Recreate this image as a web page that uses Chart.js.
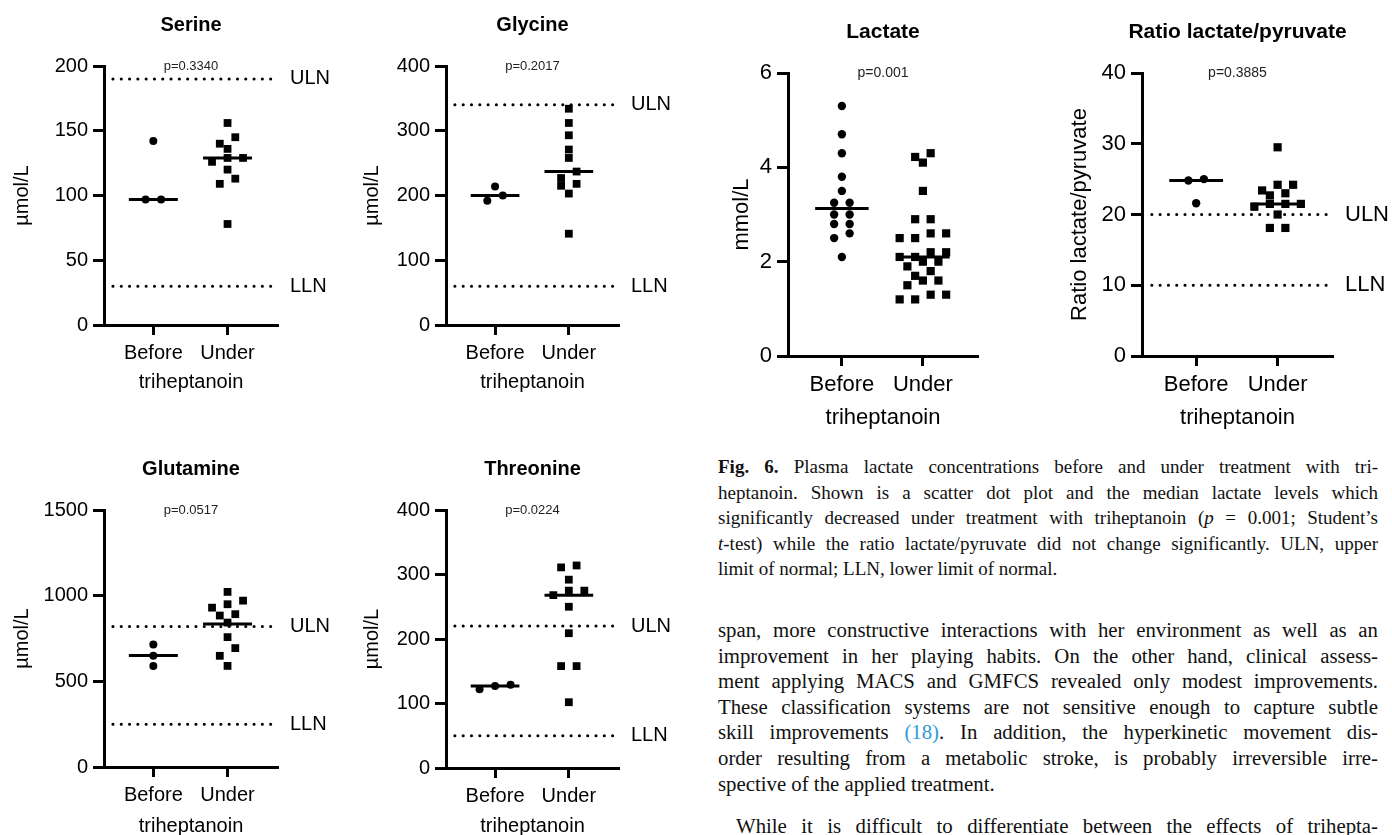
<!DOCTYPE html>
<html>
<head>
<meta charset="utf-8">
<script src="https://cdn.jsdelivr.net/npm/chart.js@4/dist/chart.umd.min.js"></script>
<style>
  html, body { margin: 0; padding: 0; background: #fff; }
  body { width: 1392px; height: 835px; position: relative; overflow: hidden; }
  canvas { position: absolute; }
  .col { position: absolute; left: 718px; width: 660px; font-family: "Liberation Serif", "Times New Roman", serif; color: #111; }
  .col div { text-align: justify; text-align-last: justify; }
  .col div.last { text-align-last: left; }
  #caption { top: 454px; font-size: 19px; line-height: 25.5px; }
  #body { top: 617px; font-size: 20.8px; line-height: 25.6px; }
  .ref { color: #2b9bd8; }
</style>
</head>
<body>
<canvas id="c-serine"></canvas>
<canvas id="c-glycine"></canvas>
<canvas id="c-lactate"></canvas>
<canvas id="c-ratio"></canvas>
<canvas id="c-glutamine"></canvas>
<canvas id="c-threonine"></canvas>

<div class="col" id="caption">
  <div><b>Fig. 6.</b> Plasma lactate concentrations before and under treatment with tri-</div>
  <div>heptanoin. Shown is a scatter dot plot and the median lactate levels which</div>
  <div>significantly decreased under treatment with triheptanoin (<i>p</i> = 0.001; Student’s</div>
  <div><i>t</i>-test) while the ratio lactate/pyruvate did not change significantly. ULN, upper</div>
  <div class="last">limit of normal; LLN, lower limit of normal.</div>
</div>

<div class="col" id="body">
  <div>span, more constructive interactions with her environment as well as an</div>
  <div>improvement in her playing habits. On the other hand, clinical assess-</div>
  <div>ment applying MACS and GMFCS revealed only modest improvements.</div>
  <div>These classification systems are not sensitive enough to capture subtle</div>
  <div>skill improvements <span class="ref">(18)</span>. In addition, the hyperkinetic movement dis-</div>
  <div>order resulting from a metabolic stroke, is probably irreversible irre-</div>
  <div class="last">spective of the applied treatment.</div>
  <div style="text-indent: 18px; margin-top: 17px">While it is difficult to differentiate between the effects of trihepta-</div>
</div>

<script>
// data
const groups = ["Before", "Under"];
const limitNames = ["ULN", "LLN"];

const serineBefore = [142, 97, 97];
const serineUnder = [156, 145, 140, 136, 129, 129, 126, 120, 113, 109, 78];
const serineLimits = [190, 30];

const glycineBefore = [214, 200, 192];
const glycineUnder = [334, 312, 293, 271, 258, 237, 227, 218, 215, 203, 141];
const glycineLimits = [340, 60];

const lactateBefore = [5.3, 4.7, 4.3, 3.8, 3.5, 3.25, 3.25, 3.0, 3.0, 2.8, 2.8, 2.6, 2.5, 2.1];
const lactateUnder = [4.3, 4.22, 4.1, 3.5, 2.9, 2.9, 2.6, 2.6, 2.5, 2.5, 2.2, 2.2, 2.1, 2.1,
  2.0, 2.0, 1.9, 1.8, 1.7, 1.6, 1.6, 1.5, 1.3, 1.3, 1.2, 1.2];
const lactateLimits = [];

const ratioBefore = [25.0, 24.8, 21.6];
const ratioUnder = [29.5, 24.2, 24.2, 23.4, 23.0, 22.7, 21.5, 21.5, 21.5, 21.1, 20.0, 18.1, 18.1];
const ratioLimits = [20, 10];

const glutamineBefore = [715, 650, 589];
const glutamineUnder = [1022, 971, 950, 930, 892, 884, 843, 758, 694, 649, 590];
const glutamineLimits = [820, 250];

const threonineBefore = [129, 127, 122];
const threonineUnder = [314, 311, 292, 275, 275, 268, 250, 209, 158, 158, 102];
const threonineLimits = [220, 50];

const family = '"Liberation Sans", Arial, sans-serif';
const xMin = 0.335, xMax = 2.68;

const small = { tick: 20, title: 20, yTitle: 20, p: 13, limit: 20, circle: 4, square: 5.5 };
const big = { tick: 22, title: 21, yTitle: 22, p: 14, limit: 22, circle: 4.2, square: 5.8 };

const panels = [
  { id: "c-serine", title: "Serine", p: "p=0.3340", yTitle: "µmol/L", yMax: 200, yStep: 50,
    before: serineBefore, under: serineUnder, limits: serineLimits, stat: "median", f: small,
    box: { left: 0, top: 0, width: 350, height: 400 }, area: { l: 104, t: 66, r: 278, b: 325 },
    yTitlePad: 10, xTitlePad: 6 },
  { id: "c-glycine", title: "Glycine", p: "p=0.2017", yTitle: "µmol/L", yMax: 400, yStep: 100,
    before: glycineBefore, under: glycineUnder, limits: glycineLimits, stat: "median", f: small,
    box: { left: 350, top: 0, width: 350, height: 400 }, area: { l: 446, t: 66, r: 619, b: 325 },
    yTitlePad: 10, xTitlePad: 6 },
  { id: "c-lactate", title: "Lactate", p: "p=0.001", yTitle: "mmol/L", yMax: 6, yStep: 2,
    before: lactateBefore, under: lactateUnder, limits: lactateLimits, stat: "median", f: big,
    box: { left: 710, top: 0, width: 340, height: 440 }, area: { l: 788, t: 73, r: 978, b: 356 },
    yTitlePad: 19, xTitlePad: 9 },
  { id: "c-ratio", title: "Ratio lactate/pyruvate", p: "p=0.3885", yTitle: "Ratio lactate/pyruvate", yMax: 40, yStep: 10,
    before: ratioBefore, under: ratioUnder, limits: ratioLimits, stat: "median", f: big,
    box: { left: 1050, top: 0, width: 342, height: 440 }, area: { l: 1142, t: 73, r: 1333, b: 356 },
    yTitlePad: 17, xTitlePad: 9 },
  { id: "c-glutamine", title: "Glutamine", p: "p=0.0517", yTitle: "µmol/L", yMax: 1500, yStep: 500,
    before: glutamineBefore, under: glutamineUnder, limits: glutamineLimits, stat: "mean", f: small,
    box: { left: 0, top: 440, width: 350, height: 410 }, area: { l: 104, t: 510, r: 278, b: 767 },
    yTitlePad: 10, xTitlePad: 12 },
  { id: "c-threonine", title: "Threonine", p: "p=0.0224", yTitle: "µmol/L", yMax: 400, yStep: 100,
    before: threonineBefore, under: threonineUnder, limits: threonineLimits, stat: "median", f: small,
    box: { left: 350, top: 440, width: 350, height: 410 }, area: { l: 446, t: 510, r: 619, b: 768 },
    yTitlePad: 10, xTitlePad: 12 },
];

// spread points that sit at about the same height into a centred row
function swarm(values, center, step, bin) {
  const sorted = values.slice().sort((a, b) => b - a);
  const rows = [];
  for (const v of sorted) {
    const row = rows[rows.length - 1];
    if (row && row[0] - v < bin) row.push(v);
    else rows.push([v]);
  }
  const pts = [];
  for (const row of rows) {
    row.sort((a, b) => a - b);
    row.forEach((v, k) => pts.push({ x: center + (k - (row.length - 1) / 2) * step, y: v }));
  }
  return pts;
}

function centerValue(values, stat) {
  if (stat === "mean") return values.reduce((s, v) => s + v, 0) / values.length;
  const s = values.slice().sort((a, b) => a - b);
  const m = Math.floor(s.length / 2);
  return s.length % 2 ? s[m] : (s[m - 1] + s[m]) / 2;
}

const panelText = {
  id: "panelText",
  afterDraw(chart, args, o) {
    const { ctx, chartArea: a, scales } = chart;
    const cx = (a.left + a.right) / 2;
    ctx.save();
    ctx.fillStyle = "#000";
    ctx.textAlign = "center";
    ctx.textBaseline = "middle";
    ctx.font = `bold ${o.f.title}px ${family}`;
    ctx.fillText(o.title, cx, a.top - 41);
    ctx.font = `${o.f.p}px ${family}`;
    ctx.fillStyle = "#222";
    ctx.fillText(o.p, cx, a.top);
    ctx.fillStyle = "#000";
    ctx.textAlign = "left";
    ctx.font = `${o.f.limit}px ${family}`;
    o.limits.forEach((v, i) => ctx.fillText(limitNames[i], a.right + 12, scales.y.getPixelForValue(v)));
    ctx.restore();
  },
};

const axisGrid = (len) => ({
  drawOnChartArea: false, drawTicks: true, tickLength: len, tickWidth: 3, tickColor: "#000", color: "#000",
});

panels.forEach((p) => {
  const el = document.getElementById(p.id);
  el.width = p.box.width;
  el.height = p.box.height;
  el.style.left = p.box.left + "px";
  el.style.top = p.box.top + "px";

  const a = p.area;
  const pxX = (a.r - a.l) / (xMax - xMin);
  const pxY = (a.b - a.t) / p.yMax;
  const bin = 8 / pxY;
  const step = 15.5 / pxX;

  const datasets = [];
  [p.before, p.under].forEach((vals, g) => {
    const c = g + 1;
    const m = centerValue(vals, p.stat);
    datasets.push({
      data: [{ x: c - 0.33, y: m }, { x: c + 0.33, y: m }],
      showLine: true, borderColor: "#000", borderWidth: 3, pointRadius: 0, order: 0,
    });
  });
  p.limits.forEach((v) => {
    datasets.push({
      data: [{ x: xMin + 0.12, y: v }, { x: xMax, y: v }],
      showLine: true, borderColor: "#000", borderWidth: 3, borderDash: [0.1, 8.2],
      borderCapStyle: "round", pointRadius: 0, order: 2,
    });
  });
  datasets.push({
    data: swarm(p.before, 1, step, bin),
    pointStyle: "circle", pointRadius: p.f.circle, backgroundColor: "#000", borderWidth: 0, order: 1,
  });
  datasets.push({
    data: swarm(p.under, 2, step, bin),
    pointStyle: "rect", pointRadius: p.f.square, backgroundColor: "#000", borderWidth: 0, order: 1,
  });

  new Chart(el, {
    type: "scatter",
    data: { datasets },
    options: {
      responsive: false,
      animation: false,
      events: [],
      layout: {
        padding: { top: a.t - p.box.top, right: p.box.left + p.box.width - a.r, bottom: 0, left: 0 },
      },
      plugins: {
        legend: { display: false },
        tooltip: { enabled: false },
        panelText: { title: p.title, p: p.p, limits: p.limits, f: p.f },
      },
      scales: {
        x: {
          type: "linear",
          min: xMin,
          max: xMax,
          afterBuildTicks: (s) => { s.ticks = [{ value: 1 }, { value: 2 }]; },
          afterFit: (s) => { s.height = p.box.top + p.box.height - a.b; },
          grid: axisGrid(10),
          border: { color: "#000", width: 3 },
          ticks: {
            color: "#000", font: { family, size: p.f.tick }, padding: 6,
            autoSkip: false, maxRotation: 0, callback: (v, i) => groups[i],
          },
          title: {
            display: true, text: "triheptanoin", color: "#000",
            font: { family, size: p.f.tick }, padding: { top: 0, bottom: p.xTitlePad },
          },
        },
        y: {
          min: 0,
          max: p.yMax,
          afterFit: (s) => { s.width = a.l - p.box.left; },
          grid: axisGrid(11),
          border: { color: "#000", width: 3 },
          ticks: {
            stepSize: p.yStep, color: "#000", font: { family, size: p.f.tick }, padding: 5,
            callback: (v) => String(v),
          },
          title: {
            display: true, text: p.yTitle, color: "#000",
            font: { family, size: p.f.yTitle }, padding: { top: p.yTitlePad, bottom: 0 },
          },
        },
      },
    },
    plugins: [panelText],
  });
});
</script>
</body>
</html>
